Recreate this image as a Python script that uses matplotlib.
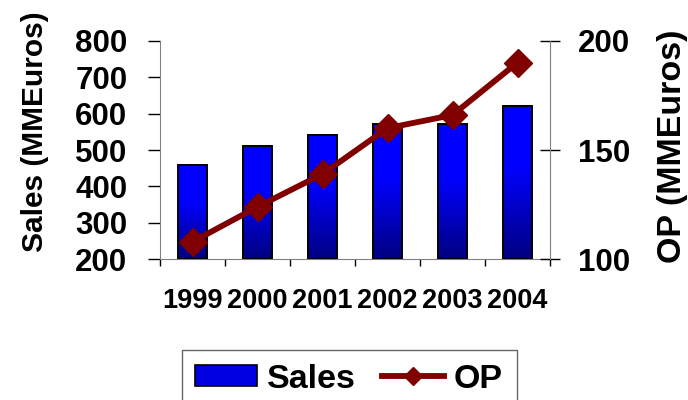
import numpy as np
import matplotlib

matplotlib.use("Agg")
import matplotlib.pyplot as plt
from matplotlib.lines import Line2D
from matplotlib.patches import Rectangle

plt.rcParams["font.family"] = ["Liberation Sans", "DejaVu Sans"]
plt.rcParams["font.weight"] = "bold"

years = ["1999", "2000", "2001", "2002", "2003", "2004"]
sales = [460, 510, 540, 570, 570, 620]
op = [108, 124, 139, 160, 166, 190]

SPINE = "#808080"
LINE_RED = "#800000"
BAR_W = 0.44

fig = plt.figure(figsize=(6.88, 4), dpi=100)
ax = fig.add_axes([160 / 688, 1 - 259.3 / 400, 390 / 688, 218.6 / 400])

# vertical blue gradient, navy at the bottom to bright blue near the top
t = np.linspace(0, 1, 256)
blue = 0.5 + 0.5 * np.clip(t / 0.6, 0, 1)
grad = np.zeros((256, 1, 3))
grad[:, 0, 2] = blue

x = np.arange(len(years))
for xi, h in zip(x, sales):
    ax.imshow(grad, origin="lower", aspect="auto", interpolation="bilinear",
              extent=(xi - BAR_W / 2, xi + BAR_W / 2, 200, h), zorder=2)
    ax.add_patch(Rectangle((xi - BAR_W / 2, 200), BAR_W, h - 200,
                           facecolor="none", edgecolor="black", lw=1.4, zorder=3))

ax.set_xlim(-0.5, 5.5)
ax.set_ylim(200, 800)
ax.set_yticks(range(200, 801, 100))
ax.set_xticks(np.arange(-0.5, 6, 1))
ax.set_xticklabels([])
ax.set_xticks(x, minor=True)
ax.set_xticklabels(years, minor=True)
ax.tick_params(axis="x", which="major", direction="out", length=5, width=1)
ax.tick_params(axis="x", which="minor", length=0, pad=21, labelsize=19.5)
ax.tick_params(axis="y", direction="out", length=8.5, width=1, pad=15, labelsize=22.5)
for s in ["left", "bottom"]:
    ax.spines[s].set_color(SPINE)
for s in ["top", "right"]:
    ax.spines[s].set_visible(False)
ax.text(-0.32, 0.582, "Sales (MMEuros)", transform=ax.transAxes, rotation=90,
        ha="center", va="center", fontsize=21.5)

ax2 = ax.twinx()
ax2.plot(x, op, color=LINE_RED, lw=4.2, marker="D", markersize=14, zorder=4)
ax2.set_ylim(100, 200)
ax2.set_yticks([100, 150, 200])
ax2.tick_params(axis="y", direction="inout", length=14, width=1, pad=13, labelsize=22.5)
ax2.spines["right"].set_color(SPINE)
for s in ["top", "left", "bottom"]:
    ax2.spines[s].set_visible(False)
ax2.text(1.313, 0.518, "OP (MMEuros)", transform=ax2.transAxes, rotation=90,
         ha="center", va="center", fontsize=24.5)

handles = [
    Rectangle((0, 0), 1, 1, facecolor="#0000E0", edgecolor="black", lw=1.2),
    Line2D([], [], color=LINE_RED, lw=4.2, marker="D", markersize=9),
]
leg = fig.legend(handles, ["Sales", "OP"], loc="upper left", ncol=2,
                 bbox_to_anchor=(181.7 / 688, 1 - 350 / 400), borderaxespad=0,
                 fontsize=24.5, frameon=True, fancybox=False, borderpad=0.4,
                 handlelength=1.82, handleheight=0.55, handletextpad=0.3,
                 columnspacing=0.75)
leg.get_frame().set_edgecolor("#404040")
leg.get_frame().set_linewidth(1)

fig.savefig("out.png", dpi=100)
